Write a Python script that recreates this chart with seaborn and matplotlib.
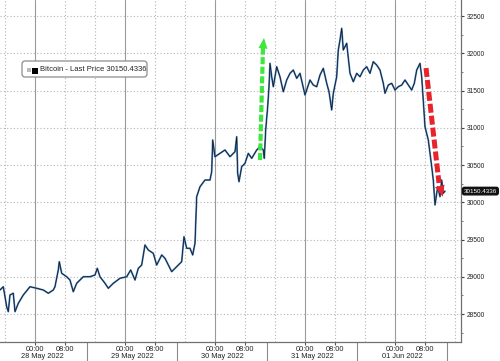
import numpy as np
import pandas as pd
import matplotlib
matplotlib.use("Agg")
import matplotlib.pyplot as plt
import matplotlib.dates as mdates
import matplotlib.transforms as mtransforms
from matplotlib.patches import FancyBboxPatch, Rectangle
from matplotlib.ticker import FixedLocator
import seaborn as sns

# ---------------- data (hours after 28 May 2022 00:00, price in USD) -------------
hours = [-9.33, -8.45, -7.55, -7.12, -6.67, -5.79, -5.33, -4.45, -3.12, -1.33,
         0.45, 2.21, 3.55, 4.88, 5.33, 6.21, 6.48, 7.12, 8.45, 9.33,
         10.21, 11.12, 12.88, 14.67, 16.0, 16.61, 17.33, 18.67, 19.55, 20.88,
         22.67, 24.45, 25.52, 26.67, 27.55, 28.45, 29.33, 30.21, 31.55, 32.45,
         33.79, 34.67, 35.55, 36.45, 37.79, 39.12, 39.73, 40.45, 41.33, 42.05,
         42.67, 43.12, 44.0, 45.33, 46.67, 47.12, 47.39, 48.0, 49.33, 50.67,
         52.0, 53.33, 53.79, 54.05, 54.4, 55.12, 56.0, 56.88, 57.79, 59.12,
         60.0, 60.88, 61.15, 61.52, 62.05, 62.4, 62.67, 63.12, 63.55, 64.45,
         65.33, 66.21, 67.12, 68.0, 68.88, 69.79, 70.67, 72.0, 73.33, 74.21,
         75.12, 76.0, 76.88, 77.79, 78.4, 79.12, 79.55, 80.45, 80.88, 81.33,
         81.79, 82.21, 83.12, 84.0, 84.88, 85.79, 86.67, 87.55, 88.45, 89.33,
         90.21, 91.12, 92.0, 92.88, 93.33, 94.21, 95.12, 96.0, 96.88, 97.79,
         98.67, 99.55, 100.45, 101.15, 101.79, 102.67, 103.12, 103.81, 104.0, 104.88,
         105.79, 106.21, 106.67, 107.39, 108.0, 108.45, 108.88, 109.33]
prices = [28823, 28867, 28599, 28532, 28756, 28779, 28532, 28644, 28756, 28867,
          28846, 28823, 28779, 28823, 28867, 29091, 29203, 29047, 29001, 28957,
          28800, 28913, 29001, 29001, 29024, 29114, 29001, 28913, 28846, 28913,
          28980, 29001, 29091, 28957, 29114, 29158, 29427, 29360, 29315, 29158,
          29293, 29248, 29158, 29069, 29136, 29203, 29538, 29383, 29383, 29293,
          29450, 30075, 30209, 30299, 30299, 30411, 30836, 30612, 30657, 30702,
          30612, 30679, 30880, 30389, 30276, 30478, 30523, 30657, 30590, 30702,
          30746, 30702, 30590, 30970, 31283, 31551, 31865, 31685, 31551, 31820,
          31685, 31484, 31641, 31731, 31775, 31664, 31731, 31440, 31641, 31574,
          31551, 31708, 31798, 31597, 31484, 31239, 31463, 31685, 32044, 32178,
          32335, 32044, 32134, 31731, 31618, 31731, 31685, 31775, 31820, 31731,
          31887, 31842, 31775, 31597, 31463, 31574, 31597, 31507, 31551, 31574,
          31641, 31574, 31507, 31597, 31775, 31865, 31685, 31149, 31014, 30836,
          30478, 30299, 29964, 30209, 30075, 30299, 30121, 30150]
y_ticks = [28500, 29000, 29500, 30000, 30500, 31000, 31500, 32000, 32500]
last_price = "30150.4336"
series_label = "Bitcoin - Last Price 30150.4336"
day_labels = ["28 May 2022", "29 May 2022", "30 May 2022", "31 May 2022", "01 Jun 2022"]
time_labels = ["00:00", "08:00"]

# ---------------- style -----------------------------------------------------------
sns.set_theme(style="white")
plt.rcParams["font.family"] = ["Liberation Sans", "DejaVu Sans"]

base = pd.Timestamp("2022-05-28")
df = pd.DataFrame({"time": base + pd.to_timedelta(hours, unit="h"), "price": prices})

W, H = 500, 361
fig = plt.figure(figsize=(5, 3.61), dpi=100)
fig.patch.set_facecolor("white")
ax = fig.add_axes([0, 1 - 342 / H, 461 / W, 342 / H])
ax.set_facecolor("white")

def tnum(h):
    return mdates.date2num(base + pd.Timedelta(hours=h))

ax.set_xlim(tnum(-9.33), tnum(113.6))
ax.set_ylim(28125, 32715)

# grid lines
for d in range(-1, 5):
    for hh, style in ((0, "solid"), (8, "dotted"), (16, "dotted")):
        h = d * 24 + hh
        if style == "solid":
            ax.axvline(tnum(h), color="#9a9a9a", lw=0.8, zorder=0)
        else:
            ax.axvline(tnum(h), color="#b5b5b5", lw=0.8, ls=(0, (1, 2)), zorder=0)
for yv in y_ticks:
    ax.axhline(yv, color="#b5b5b5", lw=0.8, ls=(0, (1, 2)), zorder=0)

# series
sns.lineplot(data=df, x="time", y="price", color="#4a86c8", lw=1.3, ax=ax, zorder=3)
sns.lineplot(data=df, x="time", y="price", color="#151515", lw=0.55, ax=ax, zorder=4)
ax.set_xlabel("")
ax.set_ylabel("")

# spines
for s in ("left", "top"):
    ax.spines[s].set_visible(False)
for s in ("right", "bottom"):
    ax.spines[s].set_color("#707070")
    ax.spines[s].set_linewidth(0.9)

# y ticks on right
ax.yaxis.tick_right()
ax.set_yticks(y_ticks)
ax.set_yticklabels([str(v) for v in y_ticks])
ax.yaxis.set_minor_locator(FixedLocator([v + 250 for v in [28000] + y_ticks]))
ax.tick_params(axis="y", which="major", length=2.5, width=0.8, color="#444",
               pad=1.5, labelsize=4.8, labelcolor="#222")
ax.tick_params(axis="y", which="minor", length=1.5, width=0.6, color="#666", right=True)

# x ticks
xt, xl = [], []
for d in range(0, 5):
    for hh, lab in zip((0, 8), time_labels):
        xt.append(tnum(d * 24 + hh))
        xl.append(lab)
ax.set_xticks(xt)
ax.set_xticklabels(xl)
ax.tick_params(axis="x", length=2, width=0.8, color="#555", pad=0.8,
               labelsize=5.3, labelcolor="#222", bottom=True)

# date separators and date labels
trans = mtransforms.blended_transform_factory(ax.transData, ax.transAxes)
seps = [d * 24 + 14 for d in range(-1, 5)]
for s in seps[1:]:
    ax.plot([tnum(s), tnum(s)], [0, -19 / 342], transform=trans, color="#8a8a8a",
            lw=0.8, clip_on=False)
for i, lab in enumerate(day_labels):
    c = (seps[i] + seps[i + 1]) / 2
    ax.text(tnum(c), -14.5 / 342, lab, transform=trans, ha="center", va="center",
            fontsize=5.3, color="#222")

# last price tag
ax.annotate(last_price, xy=(1.0, 30150.4336), xycoords=ax.get_yaxis_transform(),
            xytext=(2.0, 0), textcoords="offset points", ha="left", va="center",
            fontsize=4.5, color="white", annotation_clip=False,
            bbox=dict(boxstyle="round,pad=0.2,rounding_size=0.3", fc="#111", ec="#111"))

# legend box
idt = mtransforms.IdentityTransform()
fig.add_artist(FancyBboxPatch((22, H - 77), 125, 16, boxstyle="round,pad=0,rounding_size=3",
                              transform=idt, fc="white", ec="#8c8c8c", lw=0.9, zorder=10))
fig.add_artist(Rectangle((27, H - 72), 4, 4, transform=idt, fc="#bbbbbb", ec="none", zorder=11))
fig.add_artist(Rectangle((32, H - 73.5), 6, 6, transform=idt, fc="black", ec="none", zorder=11))
fig.text(40 / W, (H - 69.5) / H, series_label, fontsize=5.5, color="#222",
         ha="left", va="center", zorder=12)

# annotation arrows (dashed shafts + solid heads)
def dashed_arrow(tail, head_base, tip, color, lw, dash, hw, hl):
    ax.plot([tnum(tail[0]), tnum(head_base[0])], [tail[1], head_base[1]], color=color,
            lw=lw, ls=(0, dash), solid_capstyle="butt", dash_capstyle="butt", zorder=6)
    ax.annotate("", xy=(tnum(tip[0]), tip[1]), xytext=(tnum(head_base[0]), head_base[1]),
                arrowprops=dict(arrowstyle=f"-|>,head_length={hl},head_width={hw}",
                                color=color, lw=0.01, shrinkA=0, shrinkB=0,
                                mutation_scale=10), zorder=6)

dashed_arrow((60.0, 30567), (60.8, 32071), (61.07, 32205), "#3ee63e", 3.0, (1.7, 0.6), 0.32, 0.75)
dashed_arrow((104.27, 31802), (107.73, 30259), (108.72, 30075), "#e8232b", 3.6, (1.8, 0.6), 0.35, 0.8)

fig.savefig("out.png", dpi=100)
